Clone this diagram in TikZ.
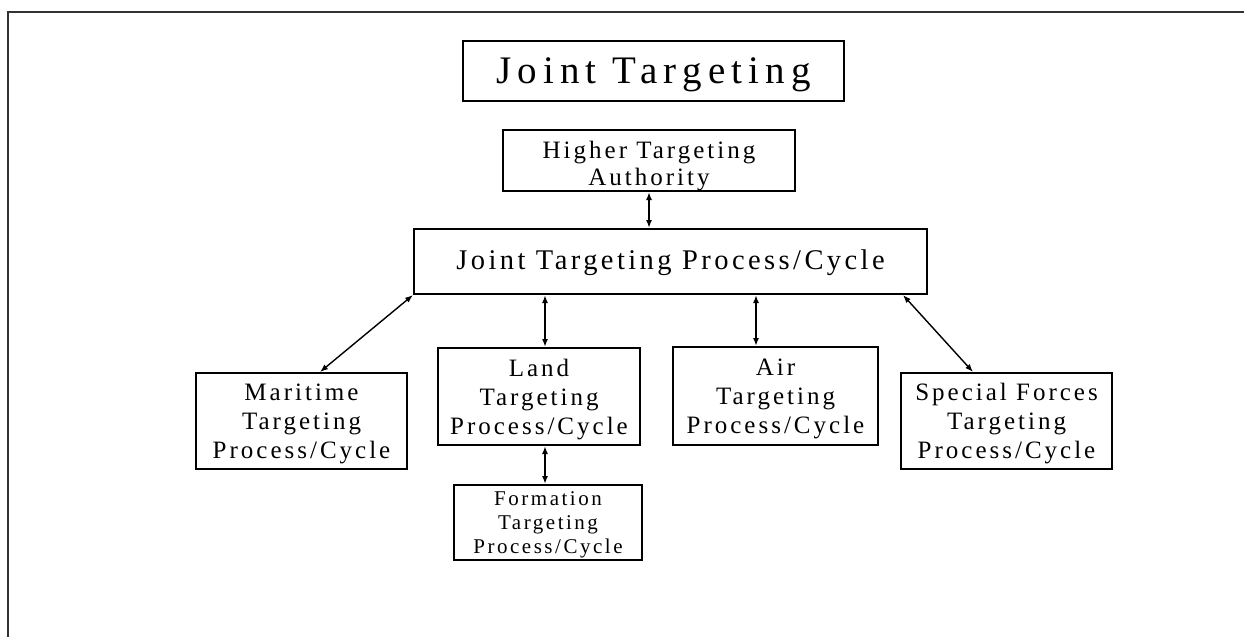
\documentclass[tikz,border=0pt]{standalone}
\usepackage{fontspec}
\setmainfont{Liberation Serif}
\newfontfamily\boxfont[LetterSpace=12]{Liberation Serif}
\newfontfamily\titlefont[LetterSpace=16]{Liberation Serif}
\usetikzlibrary{arrows.meta}
% invisible strut that raises the height of a first line
\newcommand\firstlift[1]{\rule{0pt}{#1}}
\begin{document}
\begin{tikzpicture}[x=1pt,y=-1pt,
  box/.style={draw=black, line width=2pt, rectangle, inner sep=0pt,
    align=center, text=black},
  body/.style={font=\boxfont\fontsize{25}{29}\selectfont},
  biarrow/.style={{Latex[length=8pt,width=6pt]}-{Latex[length=8pt,width=6pt]},
    line width=2pt},
  slantarrow/.style={biarrow, line width=1.4pt}]
\useasboundingbox (0,0) rectangle (1244,637);

% page frame (top and left edges)
\draw[line width=2.8pt, black!80] (1244,12) -- (8,12) -- (8,637);

% title
\node[box, minimum width=381pt, minimum height=60pt,
  font=\titlefont\fontsize{39}{45}\selectfont,
  text height=26pt, text depth=2pt] (title) at (653.5,71) {Joint Targeting};

% upper level
\node[box, body, minimum width=292pt, minimum height=61pt,
  font=\boxfont\fontsize{25}{27}\selectfont] (hta) at (649,160.5)
  {\firstlift{28pt}Higher Targeting\\Authority};
\node[box, minimum width=513pt, minimum height=65pt,
  font=\boxfont\fontsize{28.5}{33}\selectfont,
  text height=19pt, text depth=4pt] (jtpc) at (670.5,261.5)
  {Joint Targeting Process/Cycle};

% component cycles
\node[box, body, minimum width=211pt, minimum height=96pt] (mar) at (301.5,421)
  {\firstlift{23pt}Maritime\\Targeting\\Process/Cycle};
\node[box, body, minimum width=202pt, minimum height=97pt] (land) at (539,396.5)
  {\firstlift{23pt}Land\\Targeting\\Process/Cycle};
\node[box, body, minimum width=205pt, minimum height=98pt] (air) at (775.5,396)
  {\firstlift{23pt}Air\\Targeting\\Process/Cycle};
\node[box, body, minimum width=211pt, minimum height=96pt] (sf) at (1006.5,421)
  {\firstlift{23pt}Special Forces\\Targeting\\Process/Cycle};
\node[box, minimum width=188pt, minimum height=75pt,
  font=\boxfont\fontsize{21}{24}\selectfont] (form) at (548,522.5)
  {\firstlift{18pt}Formation\\Targeting\\Process/Cycle};

% x positions of the connectors
\coordinate (xland) at (545,0);
\coordinate (xair) at (756,0);
\coordinate (xmar) at (320,0);
\coordinate (xsfa) at (903,0);
\coordinate (xsfb) at (973,0);

% connectors
\draw[biarrow] (hta.south) -- (hta.south |- jtpc.north);
\draw[biarrow] (jtpc.south -| xland) -- (land.north -| xland);
\draw[biarrow] (land.south -| xland) -- (form.north -| xland);
\draw[biarrow] (jtpc.south -| xair) -- (air.north -| xair);
\draw[slantarrow] (jtpc.south west) -- (mar.north -| xmar);
\draw[slantarrow] (jtpc.south -| xsfa) -- (sf.north -| xsfb);
\end{tikzpicture}
\end{document}
